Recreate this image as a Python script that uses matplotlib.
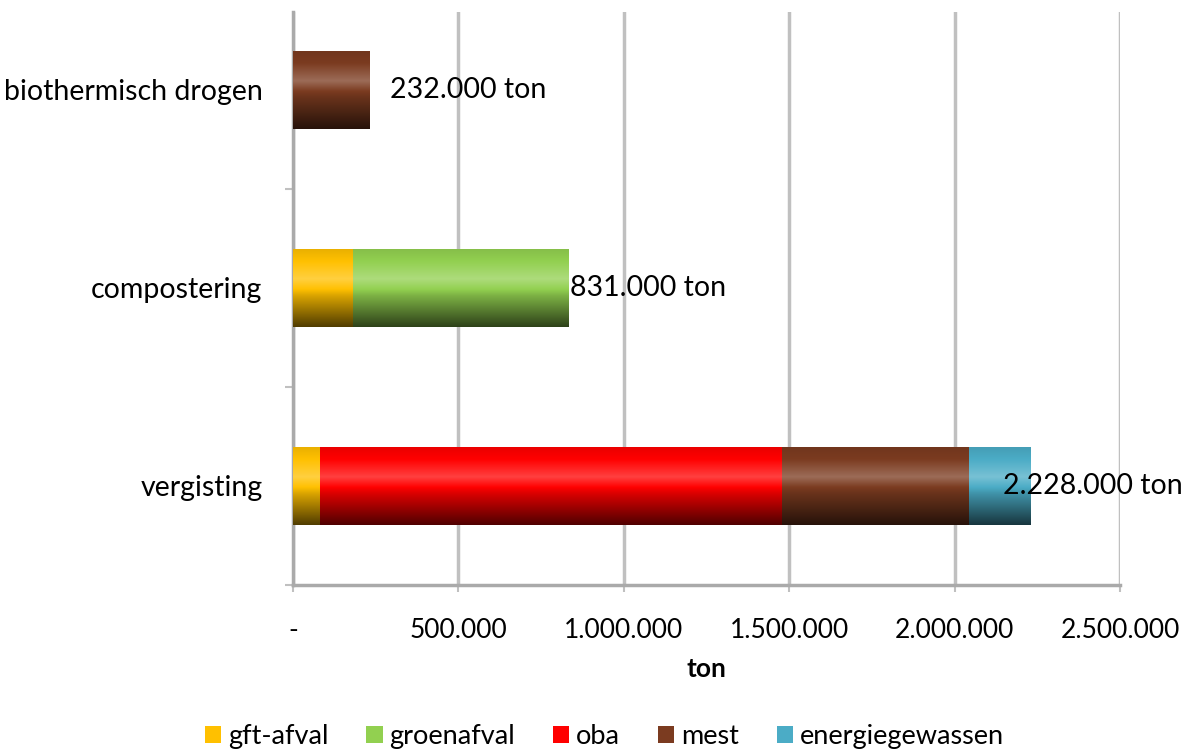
import numpy as np
import matplotlib
matplotlib.use("Agg")
import matplotlib.pyplot as plt
from matplotlib.colors import to_rgb

plt.rcParams["font.family"] = ["Lato", "DejaVu Sans"]

# data (ton), bottom to top
categories = ["vergisting", "compostering", "biothermisch drogen"]
series = ["gft-afval", "groenafval", "oba", "mest", "energiegewassen"]
gft_afval = [82000, 181000, 0]
groenafval = [0, 650000, 0]
oba = [1396000, 0, 0]
mest = [565000, 0, 232000]
energiegewassen = [185000, 0, 0]
total_labels = ["2.228.000 ton", "831.000 ton", "232.000 ton"]
label_offset = [-82000, 6000, 60000]  # data units, where Excel put the labels

COLORS = ["#ffc000", "#92d050", "#ff0000", "#7b3b20", "#4bacc6"]
GRID = "#c0c0c0"
FS = 20


def shaded(color, n=64):
    # Excel-ish cylinder shading: light band a bit above middle, dark bottom
    t = np.linspace(0, 1, n)
    f = np.interp(t, [0, 0.15, 0.38, 0.6, 1.0], [-0.08, 0.0, 0.25, -0.15, -0.68])
    c = np.array(to_rgb(color))
    rows = []
    for v in f:
        if v >= 0:
            rows.append(c + (1 - c) * v)
        else:
            rows.append(c * (1 + v))
    return np.array(rows)[:, None, :]


def fmt(v, pos):
    if v == 0:
        return "-"
    return f"{v:,.0f}".replace(",", ".")


def main():
    fig = plt.figure(figsize=(11.85, 7.49), dpi=100)
    ax = fig.add_axes([0.2473, 0.219, 0.6979, 0.765])

    y = np.arange(len(categories))
    values = [gft_afval, groenafval, oba, mest, energiegewassen]
    left = np.zeros(len(categories))
    bar_h = 0.39
    for name, vals, col in zip(series, values, COLORS):
        vals = np.array(vals, dtype=float)
        bars = ax.barh(y, vals, left=left, height=bar_h, color=col,
                       label=name, zorder=3, linewidth=0)
        for r in bars:
            if r.get_width() <= 0:
                continue
            x0, y0 = r.get_x(), r.get_y()
            ax.imshow(shaded(col), extent=(x0, x0 + r.get_width(), y0, y0 + r.get_height()),
                      aspect="auto", origin="upper", zorder=4, interpolation="bilinear")
        left += vals

    for i, (tot, lab, off) in enumerate(zip(left, total_labels, label_offset)):
        ax.text(tot + off, i, lab, va="center", ha="left", fontsize=FS + 0.5, zorder=6)

    ax.set_xlim(0, 2500000)
    ax.set_ylim(-0.5, 2.394)

    ax.set_xticks(np.arange(0, 2500001, 500000))
    ax.xaxis.set_major_formatter(plt.FuncFormatter(fmt))
    ax.xaxis.grid(True, color=GRID, linewidth=2.5, zorder=0)
    ax.set_axisbelow(True)
    ax.tick_params(axis="x", length=5, width=1.5, color=GRID, pad=19, labelsize=FS - 1)

    ax.set_yticks(y)
    ax.set_yticklabels(categories)
    ax.set_yticks([-0.5, 0.5, 1.5], minor=True)
    ax.tick_params(axis="y", which="major", length=0, pad=22, labelsize=FS + 0.5)
    ax.tick_params(axis="y", which="minor", length=6, width=1.5, color=GRID)

    for s in ("top", "right"):
        ax.spines[s].set_visible(False)
    for s in ("left", "bottom"):
        ax.spines[s].set_color("#aaaaaa")
        ax.spines[s].set_linewidth(2.5)

    ax.set_xlabel("ton", fontsize=FS - 1, fontweight="bold", labelpad=10)

    fig.legend(loc="lower center", bbox_to_anchor=(0.51, -0.033), ncol=5,
               frameon=False, fontsize=FS - 0.5, handlelength=0.6, handleheight=0.6,
               handletextpad=0.25, columnspacing=1.4)

    fig.savefig("out.png", dpi=100)


if __name__ == "__main__":
    main()
